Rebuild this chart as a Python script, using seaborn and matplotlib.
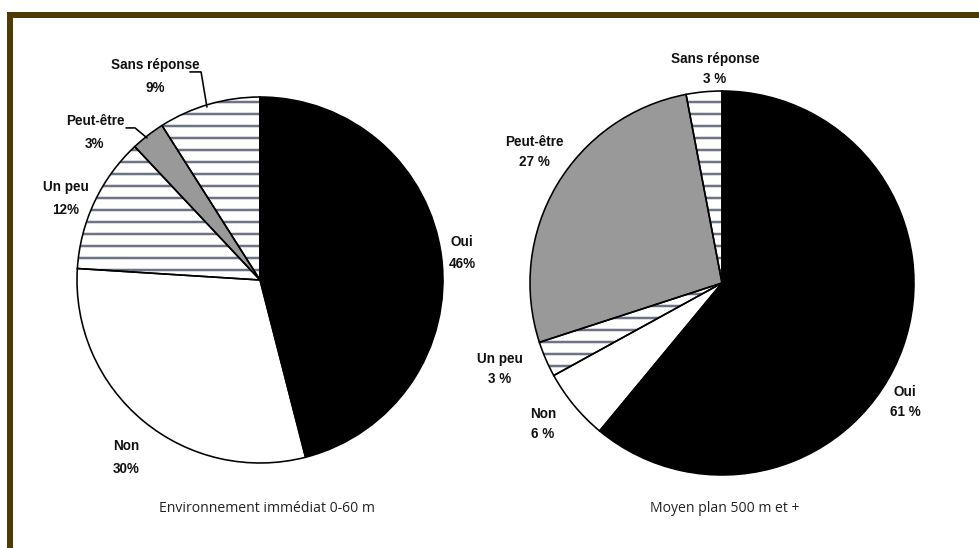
import matplotlib
matplotlib.use("Agg")
import matplotlib.pyplot as plt
from matplotlib.patches import Rectangle
import seaborn as sns

# ---- data ----
categories = ["Oui", "Non", "Un peu", "Peut-être", "Sans réponse"]
immediat_values = [46, 30, 12, 3, 9]
moyen_values = [61, 6, 3, 27, 3]
immediat_labels = ["Oui\n46%", "Non\n30%", "Un peu\n12%", "Peut-être\n3%", "Sans réponse\n9%"]
moyen_labels = ["Oui\n61 %", "Non\n6 %", "Un peu\n3 %", "Peut-être\n27 %", "Sans réponse\n3 %"]
titles = ["Environnement immédiat 0-60 m", "Moyen plan 500 m et +"]

sns.set_theme(style="white")
plt.rcParams["font.family"] = ["Liberation Sans", "DejaVu Sans"]
plt.rcParams["hatch.linewidth"] = 2.5

fill_colors = ["#000000", "#ffffff", "#ffffff", "#999999", "#ffffff"]
hatches = [None, None, "-", None, "-"]
hatch_color = "#6e7381"

DPI = 72
W, H = 979, 548
fig = plt.figure(figsize=(W / DPI, H / DPI), dpi=DPI)
fig.patch.set_facecolor("white")


def pie_axes(cx, cy, r):
    w = 2.5 * r
    return fig.add_axes([(cx - w / 2) / W, (H - cy - w / 2) / H, w / W, w / H])


def draw_pie(ax, values):
    wedges, _ = ax.pie(values, colors=fill_colors, startangle=90, counterclock=False,
                       wedgeprops=dict(linewidth=0, edgecolor=hatch_color))
    for w, h in zip(wedges, hatches):
        if h:
            w.set_hatch(h)
    ax.pie(values, colors=fill_colors, startangle=90, counterclock=False,
           wedgeprops=dict(linewidth=1.6, edgecolor="black", fill=False))
    ax.set_xlim(-1.25, 1.25)
    ax.set_ylim(-1.25, 1.25)
    ax.set_aspect("equal")
    ax.axis("off")


lab_kw = dict(fontsize=13.5, fontweight="bold", color="#111111", ha="center", va="center")

# Left pie
ax1 = pie_axes(260, 280, 183)
draw_pie(ax1, immediat_values)
left_pos = [(1.104, 0.148), (-0.732, -0.970), (-1.06, 0.445), (-0.902, 0.806), (-0.574, 1.112)]
for (x, y), t in zip(left_pos, immediat_labels):
    ax1.text(x, y, t, linespacing=1.8, **lab_kw)
ax1.plot([-0.29, -0.322, -0.383], [0.945, 1.137, 1.137], color="black", lw=1.6, clip_on=False)
ax1.plot([-0.617, -0.683, -0.732], [0.776, 0.831, 0.831], color="black", lw=1.6, clip_on=False)

# Right pie
ax2 = pie_axes(722, 283, 192)
draw_pie(ax2, moyen_values)
right_pos = [(0.953, -0.620), (-0.932, -0.734), (-1.156, -0.448), (-0.979, 0.682), (-0.036, 1.117)]
for (x, y), t in zip(right_pos, moyen_labels):
    ax2.text(x, y, t, linespacing=1.55, **lab_kw)

# Subtitles
sub_kw = dict(ha="center", va="center", fontsize=14, family=["Open Sans", "DejaVu Sans"], color="#222222")
fig.text(267 / W, 1 - 509 / H, titles[0], **sub_kw)
fig.text(725 / W, 1 - 509 / H, titles[1], **sub_kw)

# Frame (top and left bands)
border = "#4d3a05"
fig.add_artist(Rectangle((7 / W, 1 - 17.5 / H), 1 - 7 / W, 5.5 / H, transform=fig.transFigure,
                         facecolor=border, edgecolor="none"))
fig.add_artist(Rectangle((7 / W, 0), 5.5 / W, 1 - 12 / H, transform=fig.transFigure,
                         facecolor=border, edgecolor="none"))

fig.savefig("out.png", dpi=DPI, facecolor="white")
